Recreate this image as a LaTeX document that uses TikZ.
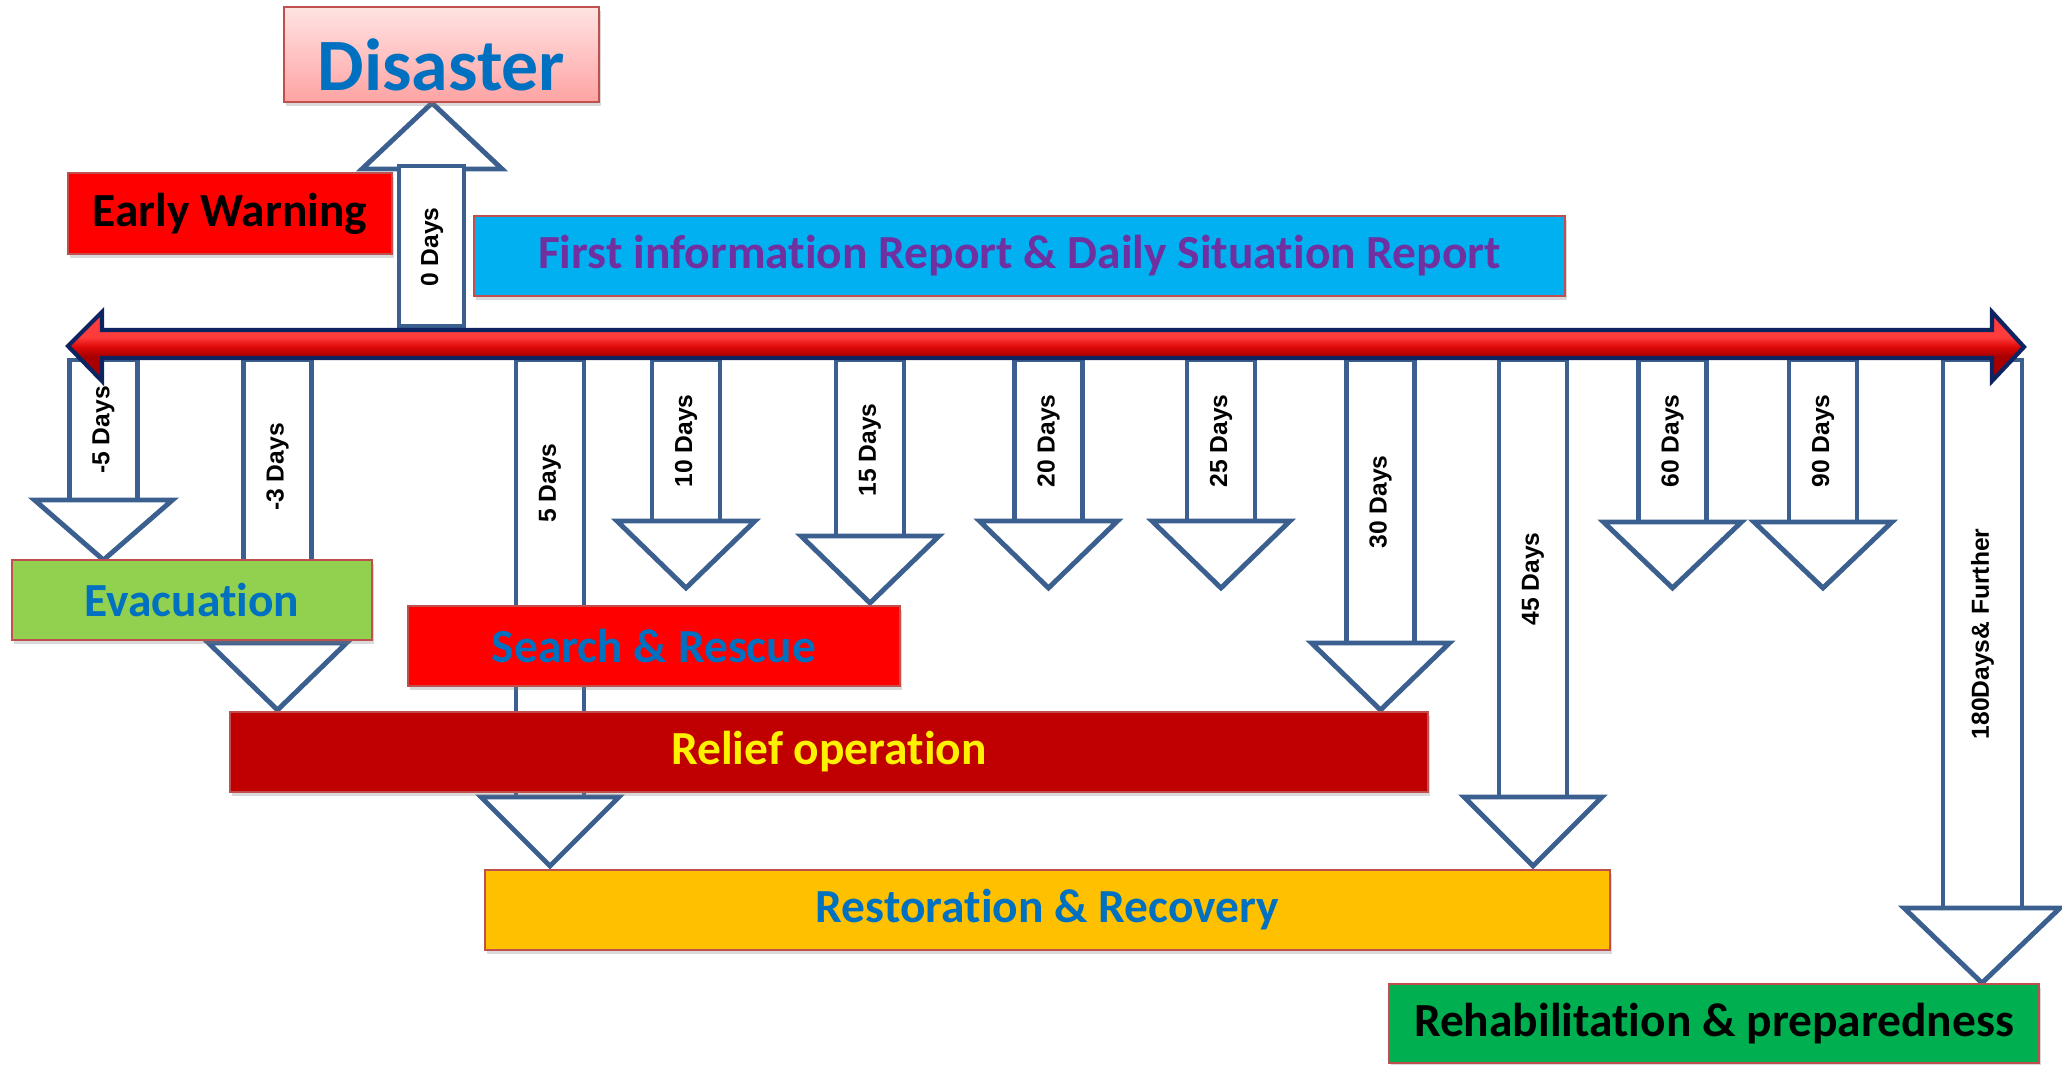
\documentclass[tikz,border=0pt]{standalone}
\usepackage{fontspec}
\setmainfont{Carlito}[Ligatures=NoCommon]
\newfontfamily\dayfont{Liberation Sans}
\usetikzlibrary{shadows}
\definecolor{arrowblue}{HTML}{3B5F8E}
\definecolor{boxedge}{HTML}{C0504D}
\definecolor{navyline}{HTML}{0E2460}
\definecolor{barlight}{HTML}{FF3C3C}
\definecolor{barmid}{HTML}{E00A0A}
\definecolor{bardark}{HTML}{A80000}
\definecolor{textblue}{HTML}{0070C0}
\definecolor{textpurple}{HTML}{7030A0}
\definecolor{skyfill}{HTML}{00B0F0}
\definecolor{leaffill}{HTML}{92D050}
\definecolor{darkred}{HTML}{C00000}
\definecolor{amber}{HTML}{FFC000}
\definecolor{greenfill}{HTML}{00B050}
\definecolor{pinktop}{HTML}{FFE3E3}
\definecolor{pinkbottom}{HTML}{FFA3A3}
\pgfdeclareverticalshading{timebar}{100bp}{color(0bp)=(bardark); color(43bp)=(bardark); color(50bp)=(barmid); color(57bp)=(barlight); color(100bp)=(barlight)}
\begin{document}
\begin{tikzpicture}[x=0.01cm,y=-0.01cm,
	box/.style={draw=boxedge,line width=0.6pt,inner sep=0pt,minimum height=0.8cm,
		drop shadow={shadow xshift=0.02cm,shadow yshift=-0.04cm,opacity=0.3},
		font=\bfseries\fontsize{13.5}{16}\selectfont},
	dayarrow/.style={draw=arrowblue,line width=1.4pt,fill=white},
	daylabel/.style={rotate=90,inner sep=0pt,font=\dayfont\bfseries\fontsize{7}{8}\selectfont}]
	\useasboundingbox (0,0) rectangle (2062,1065);
	% arrows below the time line
	\foreach \cx/\yb/\ya/\yt/\lab [count=\i] in {103.5/500/560/430/-5,277.5/643/710/467/-3,550/797/866/483/5,686/521/588/441/10,870/536/603/450/15,1048.5/521/588/441/20,1221/521/588/441/25,1380.5/643/710/502/30,1533/797/866/579/45,1672.5/522/588/441/60,1823/522/588/441/90}{
		\draw[dayarrow] (\cx-34,360) rectangle (\cx+34,\yb);
		\draw[dayarrow] (\cx-69,\yb) -- (\cx+69,\yb) -- (\cx,\ya) -- cycle;
		\node[daylabel] (day\i) at (\cx,\yt) {\lab{} Days};
	}
	\draw[dayarrow] (1943,360) rectangle (2022,908);
	\draw[dayarrow] (1904,908) -- (2060,908) -- (1982,983) -- cycle;
	\node[daylabel] (daylast) at (1982.5,634) {180Days\& Further};
	% arrow up to the disaster
	\draw[dayarrow] (362,169) -- (502,169) -- (432,103) -- cycle;
	\draw[dayarrow] (399,166) rectangle (464,326);
	\node[daylabel] (dayzero) at (432,247) {0 Days};
	% time line
	\draw[draw=navyline,line width=1.2pt,line join=miter,shade,shading=timebar] (68,346) -- (102,312) -- (102,330) -- (1992,330) -- (1992,312) -- (2024,347) -- (1992,381) -- (1992,358) -- (102,358) -- (102,381) -- cycle;
	% phases
	\node[box,top color=pinktop,bottom color=pinkbottom,minimum width=3.15cm,minimum height=0.95cm,text=textblue,font=\bfseries\fontsize{21}{25}\selectfont] (disaster) at (441.5,54.5) {\raisebox{-2.8pt}[\height][0pt]{Disaster}};
	\node[box,fill=red,minimum width=3.24cm,minimum height=0.81cm] (warning) at (230,213.5) {Early Warning};
	\node[box,fill=skyfill,text=textpurple,minimum width=10.91cm] (report) at (1019.5,256) {First information Report \& Daily Situation Report};
	\node[box,fill=leaffill,text=textblue,minimum width=3.6cm] (evacuation) at (192,600) {Evacuation};
	\node[box,fill=red,text=textblue,minimum width=4.92cm] (rescue) at (654,646) {Search \& Rescue};
	\node[box,fill=darkred,text=yellow,minimum width=11.98cm] (relief) at (829,752) {Relief operation};
	\node[box,fill=amber,text=textblue,minimum width=11.25cm] (restoration) at (1047.5,910) {Restoration \& Recovery};
	\node[box,fill=greenfill,minimum width=6.5cm,minimum height=0.79cm] (rehab) at (1714,1023.5) {Rehabilitation \& preparedness};
\end{tikzpicture}
\end{document}
